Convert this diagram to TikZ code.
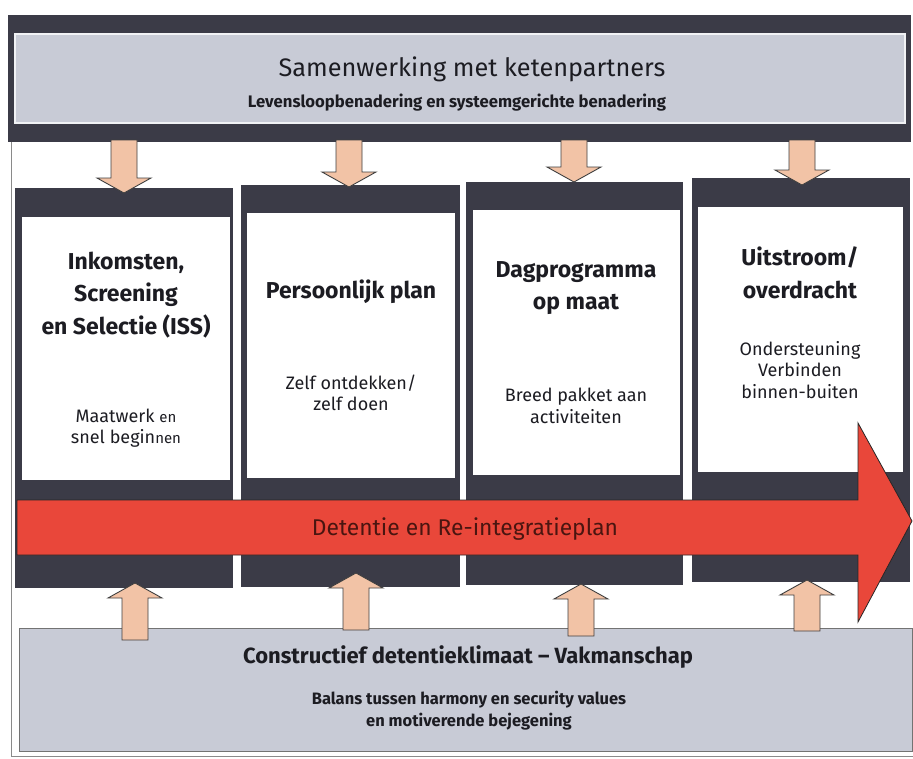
\documentclass[tikz,border=0pt]{standalone}
\usepackage{fontspec}
\setmainfont{Fira Sans}
\usetikzlibrary{calc}
\definecolor{bandc}{HTML}{3B3B47}
\definecolor{panelc}{HTML}{C8CBD6}
\definecolor{peachc}{HTML}{F2C3A6}
\definecolor{redc}{HTML}{E9473A}
\definecolor{inkc}{HTML}{1C1C22}
\definecolor{redinkc}{HTML}{4A1510}
\definecolor{framec}{HTML}{8A8A8A}
\newcommand\blockarrow[3]{% #1 tail, #2 tip, #3 = +1 (up) or -1 (down)
  \draw[blockarr] ($(#1)+(-13,0)$) -- ($(#2)+(-13,{15*(#3)})$) -- ($(#2)+(-27,{15*(#3)})$)
    -- (#2) -- ($(#2)+(27,{15*(#3)})$) -- ($(#2)+(13,{15*(#3)})$) -- ($(#1)+(13,0)$) -- cycle;}
\begin{document}
\begin{tikzpicture}[x=1pt,y=-1pt,
  box/.style={inner sep=0pt, outer sep=0pt, anchor=north west},
  bandbox/.style={box, fill=bandc},
  toppanel/.style={box, fill=panelc, draw=white!75!panelc, line width=1.2pt},
  botpanel/.style={box, fill=panelc, draw=black!55, line width=0.7pt},
  whitebox/.style={box, fill=white},
  blockarr/.style={fill=peachc, draw=black!75, line width=0.9pt, line join=miter},
  redarr/.style={fill=redc, draw=black!85, line width=0.8pt},
  coltitle/.style={font=\fontsize{23}{32.5}\selectfont\bfseries, text=inkc, align=center},
  colsub/.style={font=\fontsize{18}{21.5}\selectfont, text=inkc, align=center},
  bigtitle/.style={text=inkc, align=center},
]
\useasboundingbox (0,0) rectangle (913,758);
\fill[white] (0,0) rectangle (913,758);

% page frame
\draw[framec, line width=0.8pt] (11,140) -- (11,756) -- (913,756);

% top banner
\node[bandbox, minimum width=903pt, minimum height=127pt] (band) at (8,15) {};
\node[toppanel, minimum width=890pt, minimum height=89pt] (toppan) at (15,34) {};
\node[bigtitle, font=\fontsize{25.3}{25.3}\selectfont] (toptitle) at (472,69) {Samenwerking met ketenpartners};
\node[bigtitle, font=\fontsize{16.7}{16.7}\selectfont\bfseries] (topsub) at (457,103) {Levensloopbenadering en systeemgerichte benadering};

% columns
\foreach \i/\xa/\ya/\xb/\yb/\wxa/\wya/\wxb/\wyb in
  {1/15/188/233/588/22/217/230/480,
   2/241/185/460/587/247/213/455/478,
   3/466/182/683/585/473/210/680/475,
   4/692/178/910/582/698/207/903/472}{
  \node[bandbox, minimum width={(\xb-\xa)*1pt}, minimum height={(\yb-\ya)*1pt}] (col\i) at (\xa,\ya) {};
  \node[whitebox, minimum width={(\wxb-\wxa)*1pt}, minimum height={(\wyb-\wya)*1pt}] (wb\i) at (\wxa,\wya) {};
}

% down arrows from the top banner
\coordinate (dt1) at (124,193);
\coordinate (dt2) at (349,187);
\coordinate (dt3) at (574,182);
\coordinate (dt4) at (802,185);
\foreach \i in {1,...,4}{
  \coordinate (ds\i) at ($(band.south -| dt\i)+(0,-2)$);
  \blockarrow{ds\i}{dt\i}{-1}
}

% column texts
\node[coltitle] (t1) at (126,295) {Inkomsten,\\Screening\\en Selectie (ISS)};
\node[coltitle] (t2) at (351,292) {Persoonlijk plan};
\node[coltitle] (t3) at (576,288) {Dagprogramma\\op maat};
\node[coltitle] (t4) at (800,273) {Uitstroom/\\overdracht};
\node[colsub] (s1) at (126,428) {Maatwerk {\fontsize{15}{15}\selectfont en}\\snel begin{\fontsize{15}{15}\selectfont nen}};
\node[colsub] (s2) at (351,393) {Zelf ontdekken/\\zelf doen};
\node[colsub] (s3) at (576,406) {Breed pakket aan\\activiteiten};
\node[colsub] (s4) at (800,370) {Ondersteuning\\Verbinden\\binnen-buiten};

% big red arrow
\draw[redarr] (17,500) -- (858,500) -- (858,423) -- (912,521) -- (858,622) -- (858,555) -- (17,555) -- cycle;
\node[font=\fontsize{22.8}{22.8}\selectfont, text=redinkc] (plan) at (465,529) {Detentie en Re-integratieplan};

% bottom panel
\node[botpanel, minimum width=893pt, minimum height=123pt] (botpan) at (19,628) {};
\node[bigtitle, font=\fontsize{22}{22}\selectfont\bfseries] (bottitle) at (468,657) {Constructief detentieklimaat – Vakmanschap};
\node[bigtitle, font=\fontsize{16.5}{22}\selectfont\bfseries] (botsub) at (469,711) {Balans tussen harmony en security values\\en motiverende bejegening};

% up arrows into the columns
\coordinate (uh1) at (135,583);
\coordinate (uh2) at (356,573);
\coordinate (uh3) at (581,584);
\coordinate (uh4) at (807,580);
\coordinate (ut1) at ($(botpan.north -| uh1)+(0,12)$);
\coordinate (ut2) at ($(botpan.north -| uh2)+(0,2)$);
\coordinate (ut3) at ($(botpan.north -| uh3)+(0,8)$);
\coordinate (ut4) at ($(botpan.north -| uh4)+(0,3)$);
\foreach \i in {1,...,4}{
  \blockarrow{ut\i}{uh\i}{1}
}
\end{tikzpicture}
\end{document}
